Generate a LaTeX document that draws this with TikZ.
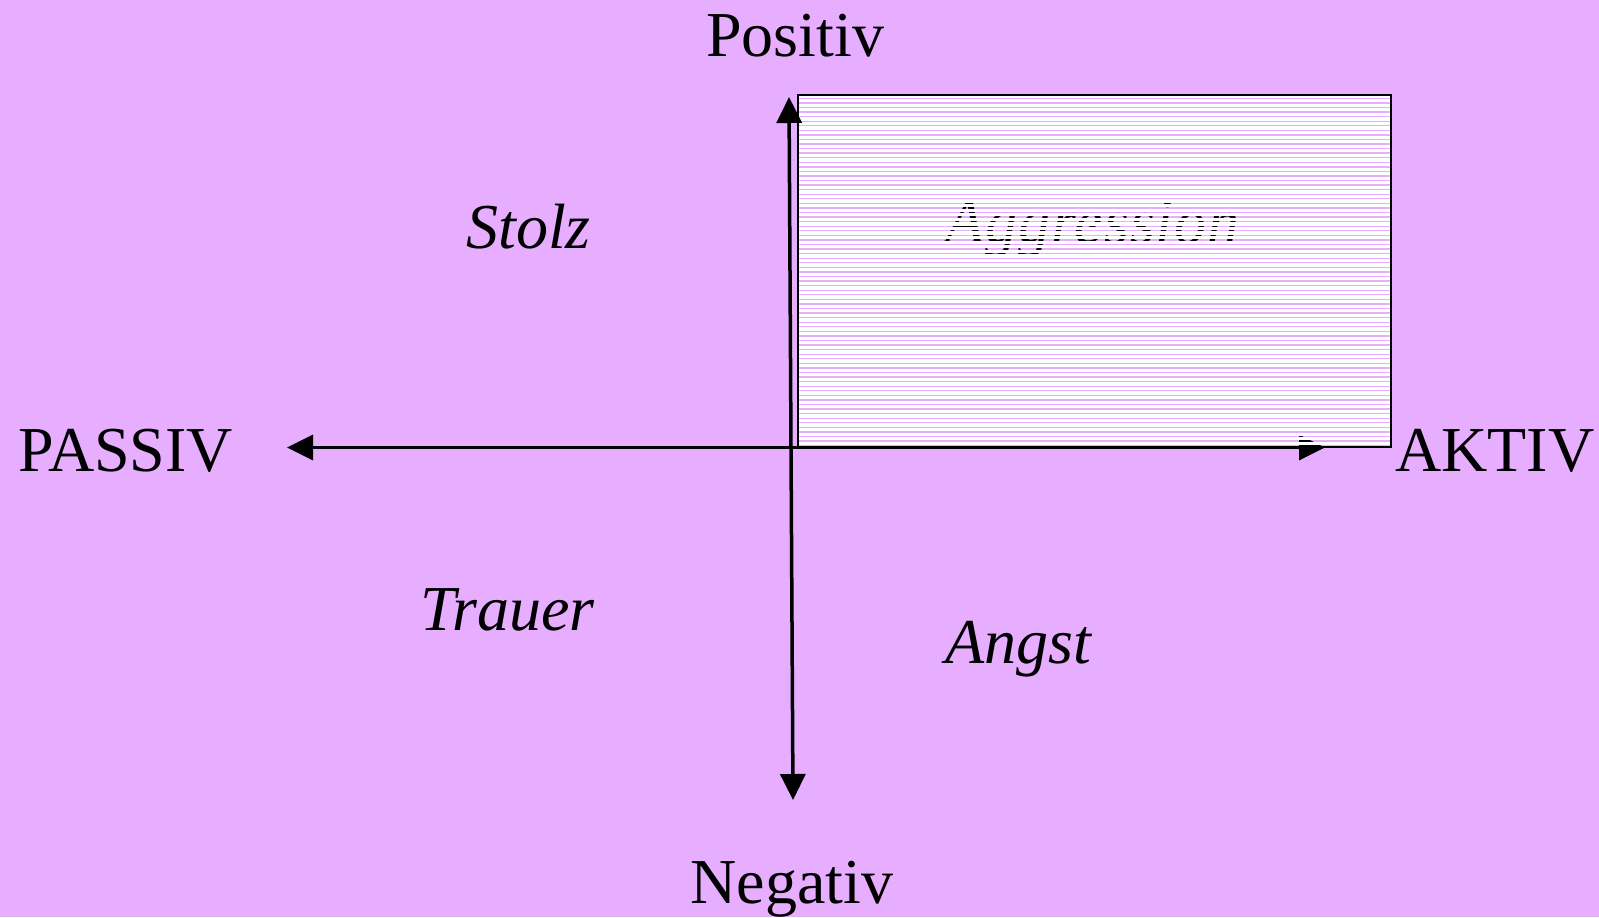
\documentclass[tikz,border=0pt]{standalone}
\usepackage{fontspec}
\setmainfont{Liberation Serif}
\usetikzlibrary{arrows.meta}
\definecolor{bgpurple}{RGB}{231,173,255}
\tikzset{
  axislabel/.style={anchor=base west,inner sep=0pt,font=\fontsize{32}{38}\selectfont},
  emolabel/.style={anchor=base west,inner sep=0pt,font=\fontsize{32}{38}\selectfont\itshape},
  axisarrow/.style={line width=1.75pt,{Triangle[length=13pt,width=12.5pt]}-{Triangle[length=13pt,width=12.5pt]}},
}
\begin{document}
\begin{tikzpicture}[x=0.5pt,y=-0.5pt]
\fill[bgpurple] (0,0) rectangle (1599,917);
\useasboundingbox (0,0) rectangle (1599,917);
% labels
\node[axislabel] (pos) at (706,56) {Positiv};
\node[axislabel] (neg) at (690,903) {Negativ};
\node[axislabel] (pas) at (18,471) {PASSIV};
\node[axislabel] (akt) at (1395,471) {AKTIV};
\node[emolabel] (stolz) at (466,248) {Stolz};
\node[emolabel] (aggr) at (945,243) {\addfontfeature{LetterSpace=1.5}Aggression};
\node[emolabel] (trauer) at (420,630) {Trauer};
\node[emolabel] (angst) at (945,663) {Angst};
% horizontal axis
\coordinate (left) at (287,447.5);
\coordinate (right) at (1325,447.5);
\draw[axisarrow] (left) -- (right);
% striped box
\fill[white] (799,95) rectangle (1391,97.65);
\foreach \k in {0,...,76} {
  \fill[white] (799,{98.95+4.57*\k}) rectangle (1391,{min(98.95+4.57*\k+3.27,447)});
}
\draw[black,line width=0.65pt] (798,95) rectangle (1391,447);
% vertical axis
\coordinate (top) at (789,97);
\coordinate (bottom) at (793,800);
\draw[axisarrow] (bottom) -- (top);
\end{tikzpicture}
\end{document}
